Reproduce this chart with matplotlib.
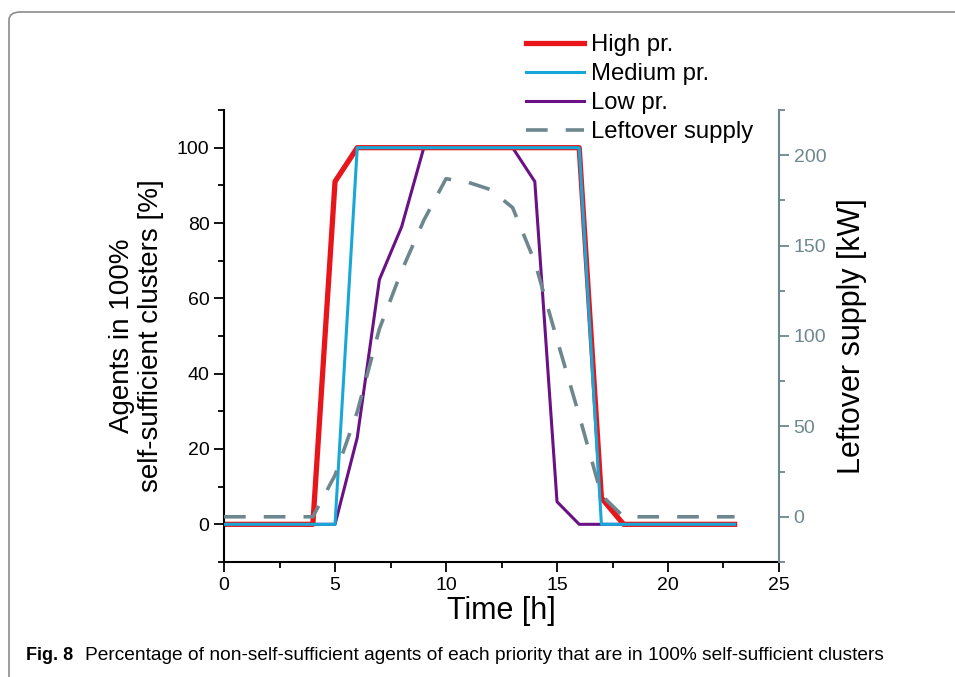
import matplotlib.pyplot as plt
from matplotlib.patches import FancyBboxPatch
from matplotlib.ticker import MultipleLocator
import numpy as np

hours = list(range(24))
high_pr = [0, 0, 0, 0, 0, 91, 100, 100, 100, 100, 100, 100, 100, 100, 100, 100, 100, 7, 0, 0, 0, 0, 0, 0]
medium_pr = [0, 0, 0, 0, 0, 0, 100, 100, 100, 100, 100, 100, 100, 100, 100, 100, 100, 0, 0, 0, 0, 0, 0, 0]
low_pr = [0, 0, 0, 0, 0, 0, 23, 65, 79, 100, 100, 100, 100, 100, 91, 6, 0, 0, 0, 0, 0, 0, 0, 0]
leftover = [0, 0, 0, 0, 0, 23, 58, 104, 136, 164, 187, 185, 181, 171, 141, 98, 56, 12, 0, 0, 0, 0, 0, 0]

caption_bold = 'Fig. 8'
caption = 'Percentage of non-self-sufficient agents of each priority that are in 100% self-sufficient clusters'

red = '#e8161b'
blue = '#18a8d8'
purple = '#6a1185'
grey = '#6e878f'
font = 'Liberation Sans'

fig = plt.figure(figsize=(9.55, 6.77), dpi=100)
ax = fig.add_axes([0.2346, 0.1699, 0.5811, 0.6676])
ax2 = ax.twinx()

l_low, = ax.plot(hours, low_pr, color=purple, lw=2.2, zorder=1, label='Low pr.')
l_high, = ax.plot(hours, high_pr, color=red, lw=3.8, zorder=2, label='High pr.')
l_med, = ax.plot(hours, medium_pr, color=blue, lw=2.2, zorder=3, label='Medium pr.')
l_left, = ax2.plot(hours, leftover, color=grey, lw=2.6, dashes=(6, 5), label='Leftover supply')

ax.set_xlim(0, 25)
ax.set_ylim(-10, 110)
ax2.set_ylim(-25, 225)
ax.xaxis.set_major_locator(MultipleLocator(5))
ax.xaxis.set_minor_locator(MultipleLocator(2.5))
ax.yaxis.set_major_locator(MultipleLocator(20))
ax.yaxis.set_minor_locator(MultipleLocator(10))
ax2.yaxis.set_major_locator(MultipleLocator(50))
ax2.yaxis.set_minor_locator(MultipleLocator(25))

for a in (ax, ax2):
    a.spines['top'].set_visible(False)
ax2.spines['left'].set_visible(False)
ax2.spines['bottom'].set_visible(False)
ax2.spines['right'].set_color(grey)
ax2.spines['right'].set_linewidth(1.5)
ax.spines['left'].set_linewidth(1.5)
ax.spines['bottom'].set_linewidth(1.5)
ax.spines['right'].set_visible(False)

ax.tick_params(axis='both', which='major', direction='out', length=7, width=1.3, labelsize=14)
ax.tick_params(axis='both', which='minor', direction='out', length=4, width=1.3)
ax2.tick_params(axis='y', which='major', direction='out', length=7, width=1.3, labelsize=14,
                colors=grey)
ax2.tick_params(axis='y', which='minor', direction='out', length=4, width=1.3, colors=grey)

for lab in ax.get_xticklabels() + ax.get_yticklabels() + ax2.get_yticklabels():
    lab.set_family(font)

ax.set_xlabel('Time [h]', fontsize=22, family=font, labelpad=2)
ax.set_ylabel('Agents in 100%\nself-sufficient clusters [%]', fontsize=20,
              family=font, labelpad=9, linespacing=1.15)
ax2.set_ylabel('Leftover supply [kW]', fontsize=22, family=font, labelpad=8)

fig.legend(handles=[l_high, l_med, l_low, l_left], loc='upper left',
           bbox_to_anchor=(0.541, 0.964), frameon=False,
           prop={'family': font, 'size': 17.2},
           handlelength=2.4, handletextpad=0.3, labelspacing=0.3, borderaxespad=0)

# page frame, open at the right and bottom edges
frame = FancyBboxPatch((9 / 955, -0.2), 1.2, 1.2 - 12 / 677, boxstyle='round,pad=0,rounding_size=0.012',
                       transform=fig.transFigure, fill=False, edgecolor='#8c8c8c', lw=1.2)
frame.set_clip_on(False)
fig.patches.append(frame)

bold = fig.text(26 / 955, 1 - 655 / 677, caption_bold, fontsize=14, fontweight='bold', va='center',
                family=font)
cap = fig.text(85 / 955, 1 - 655 / 677, caption, fontsize=13, va='center', family=font)
# scale caption texts to the widths measured on the reference
fig.canvas.draw()
bold.set_fontsize(14 * 47 / bold.get_window_extent().width)
cap.set_fontsize(13 * 797 / cap.get_window_extent().width)

fig.savefig('out.png', dpi=100)
